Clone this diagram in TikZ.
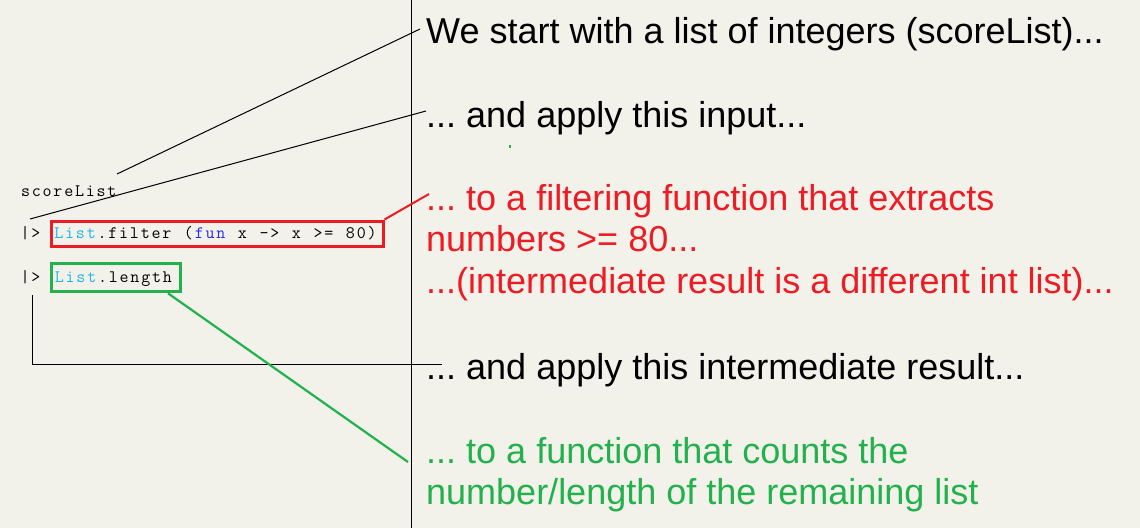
\documentclass[tikz,border=0pt]{standalone}
\usepackage{fontspec}
\setsansfont{Liberation Sans}
\definecolor{bgc}{RGB}{242,241,234}
\definecolor{redc}{RGB}{237,28,36}
\definecolor{greenc}{RGB}{34,177,76}
\definecolor{cyanc}{RGB}{30,180,235}
\definecolor{bluec}{RGB}{40,40,240}
\newlength\cw
\setlength\cw{10.8pt}
\def\mwloop#1{\ifx#1\relax\else\makebox[\cw][c]{#1}\expandafter\mwloop\fi}
\newcommand\mw[1]{\mwloop#1\relax}
\newcommand\ms{\makebox[\cw]{}}
\begin{document}
\frenchspacing
\begin{tikzpicture}[x=1pt,y=-1pt,
  note/.style={font=\sffamily\fontsize{36}{41.5}\selectfont, inner sep=0pt, anchor=base west, align=left},
  code/.style={font=\ttfamily\fontsize{17.5}{20}\selectfont, inner sep=0pt, anchor=base west},
  thin/.style={line width=1pt, black},
]
\fill[bgc] (0,0) rectangle (1140,528);
\useasboundingbox (0,0) rectangle (1140,528);
% divider
\draw[thin] (411,0) -- (411,528);
% code
\node[code] (sl) at (20,196) {\mw{scoreList}};
\node[code] (p1) at (19.6,238) {\mw{|>}};
\node[code, draw=redc, line width=3pt, inner xsep=2.5pt, inner ysep=2pt, text height=15pt, text depth=6.5pt, text width=327pt, align=left] (f1) at (49.5,238)
  {{\color{cyanc}\mw{List}}\mw{.filter}\ms\mw{(}{\color{bluec}\mw{fun}}\ms\mw{x}\ms\mw{->}\ms\mw{x}\ms\mw{>=}\ms\mw{80)}};
\node[code] (p2) at (19.6,282) {\mw{|>}};
\node[code, draw=greenc, line width=3pt, inner xsep=2.5pt, inner ysep=2pt, text height=16.8pt, text depth=7.8pt, text width=124pt, align=left] (f2) at (50,282)
  {{\color{cyanc}\mw{List}}\mw{.length}};
% notes
\node[note] (t1) at (426,43) {We start with a list of integers (scoreList)...};
\node[note] (t2) at (426,127) {... and apply this input...};
\node[note, text=redc] (t3) at (426,293) {... to a filtering function that extracts\\numbers >= 80...\\...(intermediate result is a different int list)...};
\node[note] (t4) at (426,379) {... and apply this intermediate result...};
\node[note, text=greenc] (t5) at (426,504.5) {... to a function that counts the\\number/length of the remaining list};
% connectors
\coordinate (c1) at (117,174);
\coordinate (c2) at (30,219);
\draw[thin] (c1) -- ([shift={(-6,-14)}]t1.base west);
\draw[thin] (c2) -- ([shift={(0,-16)}]t2.base west);
\draw[redc, line width=2pt] (f1.north east) -- ([shift={(3,-99)}]t3.base west);
\draw[thin] ([shift={(12.4,13)}]p2.base west) |- ([shift={(16,-15)}]t4.base west);
\draw[greenc, line width=2.2pt] ([xshift=-14]f2.south east) -- ([shift={(-18,-42.5)}]t5.base west);
\fill[greenc] (508.5,145) rectangle (511,147.5);
\end{tikzpicture}
\end{document}
